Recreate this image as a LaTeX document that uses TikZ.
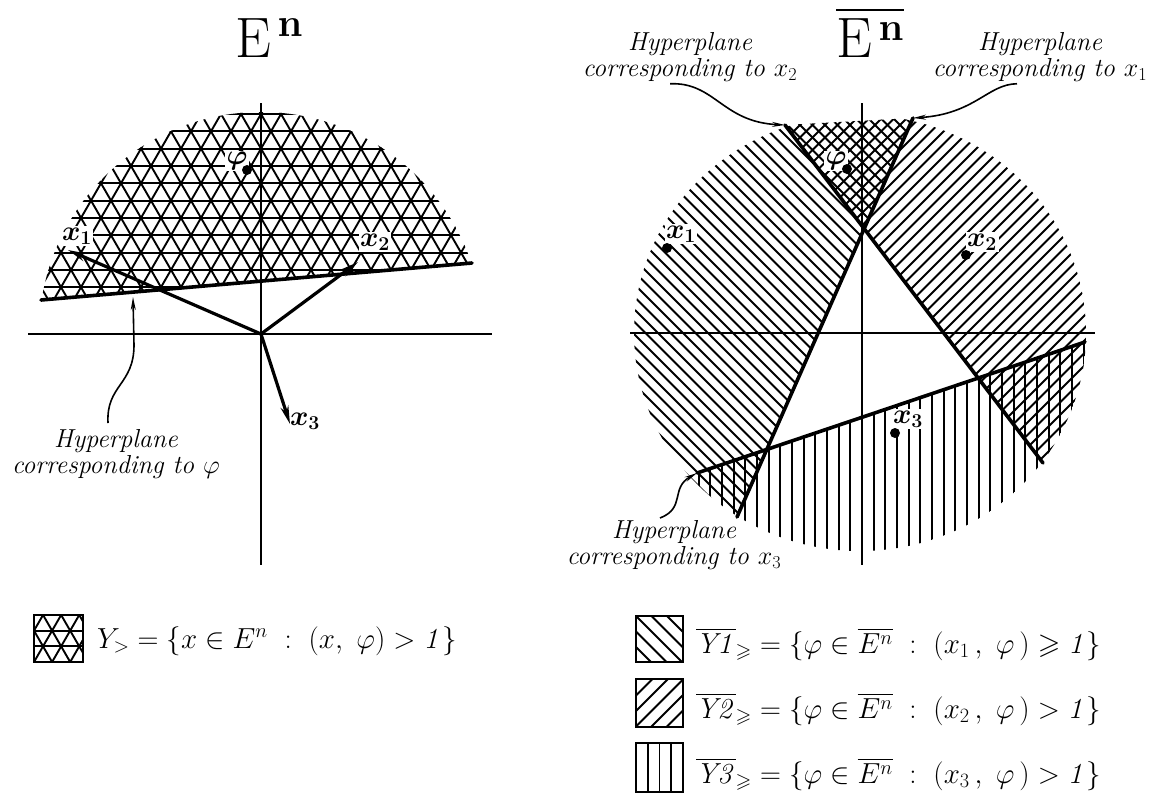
\documentclass[tikz,border=0pt]{standalone}
\usepackage{fix-cm}
\usepackage{amsmath}
\usepackage{amssymb}
\usetikzlibrary{arrows.meta}

\begin{document}
\begin{tikzpicture}[x=1pt, y=-1pt,
    axisline/.style={line width=2pt},
    hplane/.style={line width=3.6pt, line cap=round},
    hatch/.style={line width=1.9pt},
    vec/.style={line width=3.2pt, -{Stealth[length=18pt, width=8pt]}},
    pointer/.style={line width=1.6pt, -{Stealth[length=13pt, width=5pt]}},
    notetext/.style={font=\fontsize{26}{26}\selectfont\itshape, align=center, inner sep=0pt},
    lbl/.style={fill=white, inner sep=1.5pt, font=\fontsize{28}{28}\selectfont\boldmath},
    ptdot/.style={circle, fill=black, inner sep=0pt, minimum size=10pt},
    swatch/.style={line width=1.9pt},
    legtext/.style={anchor=base west, inner sep=0pt, font=\fontsize{29}{29}\selectfont},
    headtext/.style={anchor=base west, inner sep=0pt, font=\fontsize{57}{60}\selectfont}]
  \useasboundingbox (0,0) rectangle (1167,796);

  %% left picture: E^n
  \node[headtext] (headL) at (235,57) {$\mathrm{E}^{\,\mathbf{n}}$};

  % Y_> region
  \begin{scope}
    \clip (261,334) circle (222);
    \clip (20,301.8) -- (500,260.6) -- (500,80) -- (20,80) -- cycle;
    \foreach \j in {0,...,11}
      \draw[hatch] (30,114+17.32*\j) -- (495,114+17.32*\j);
    \foreach \i in {-20,...,20} {
      \draw[hatch] (111+20*\i,373.8) -- (411+20*\i,-145.8);
      \draw[hatch] (411+20*\i,373.8) -- (111+20*\i,-145.8);
    }
  \end{scope}

  \node[lbl] (phiLt) at (237,161) {$\varphi$};
  \node[lbl] (x1Lt) at (77,236) {$x_1$};
  \node[lbl] (x2Lt) at (375,242) {$x_2$};
  \node[lbl] (x3Lt) at (305,421) {$x_3$};

  \draw[axisline] (28,334) -- (492,334);
  \draw[axisline] (261,103) -- (261,565);

  \coordinate (oL) at (261,334);
  \coordinate (hpL1) at (41,300);
  \coordinate (hpL2) at (472,263);
  \draw[hplane] (hpL1) -- (hpL2);

  \node[ptdot] (phiL) at (247,170) {};
  \coordinate (x1tip) at (68,250);
  \coordinate (x2tip) at (358,262);
  \coordinate (x3tip) at (290,424);
  \draw[vec] (oL) -- (x1tip);
  \draw[vec] (oL) -- (x2tip);
  \draw[vec] (oL) -- (x3tip);

  \node[notetext, anchor=north] (phiNote) at (116,429) {Hyperplane\\corresponding to $\varphi$};
  \coordinate (phiHit) at (133,297);
  \draw[pointer] ([shift={(-8,-6)}]phiNote.north) .. controls (106,385) and (134,385) .. (134,345) -- (phiHit);

  %% right picture: dual space
  \node[headtext] (headR) at (836,57) {$\overline{\mathrm{E}^{\,\mathbf{n}}}$};

  \begin{scope}
    \clip (860,333) ellipse [x radius=226, y radius=218];
    \clip (600,135.1) -- (1150,105) -- (1150,600) -- (600,600) -- cycle;
    % Y1
    \begin{scope}
      \clip (930,80) -- (700,600) -- (600,600) -- (600,80) -- cycle;
      \foreach \k in {0,...,59}
        \draw[hatch] (180+12.5*\k,80) -- (700+12.5*\k,600);
    \end{scope}
    % Y2
    \begin{scope}
      \clip (750.7,80) -- (1147.6,600) -- (1160,600) -- (1160,80) -- cycle;
      \foreach \k in {0,...,58}
        \draw[hatch] (770+12.5*\k,80) -- (250+12.5*\k,600);
    \end{scope}
    % Y3
    \begin{scope}
      \clip (600,505.7) -- (1150,320.1) -- (1150,600) -- (600,600) -- cycle;
      \foreach \k in {-22,...,22}
        \draw[hatch] (862+11.67*\k,300) -- (862+11.67*\k,600);
    \end{scope}
  \end{scope}

  \node[lbl] (phiRt) at (836,161) {$\varphi$};
  \node[lbl] (x1Rt) at (681,234) {$x_1$};
  \node[lbl] (x2Rt) at (982,242) {$x_2$};
  \node[lbl] (x3Rt) at (908,419) {$x_3$};

  \draw[axisline] (630,333) -- (1095,333);
  \draw[axisline] (862,103) -- (862,565);

  \coordinate (hA1) at (785,125);
  \coordinate (hA2) at (1043,463);
  \coordinate (hB1) at (913,118);
  \coordinate (hB2) at (737,517);
  \coordinate (hC1) at (697,473);
  \coordinate (hC2) at (1085,342);
  \draw[hplane] (hA1) -- (hA2);
  \draw[hplane] (hB1) -- (hB2);
  \draw[hplane] (hC1) -- (hC2);

  \node[ptdot] (phiR) at (847,169) {};
  \node[ptdot] (x1R) at (667,248) {};
  \node[ptdot] (x2R) at (966,255) {};
  \node[ptdot] (x3R) at (895,433) {};

  \node[notetext, anchor=north] (x2Note) at (690,32) {Hyperplane\\corresponding to $x_2$};
  \node[notetext, anchor=north] (x1Note) at (1040,32) {Hyperplane\\corresponding to $x_1$};
  \node[notetext, anchor=north] (x3Note) at (674,520) {Hyperplane\\corresponding to $x_3$};
  \draw[pointer] ([shift={(-20,2)}]x2Note.south) .. controls (715,82) and (722,122) .. (hA1);
  \draw[pointer] ([shift={(-23,2)}]x1Note.south) .. controls (988,84) and (975,114) .. (hB1);
  \draw[pointer] ([shift={(-14,-2)}]x3Note.north) .. controls (686,508) and (670,488) .. (hC1);

  %% legend
  \begin{scope}
    \clip (34,615) rectangle (83,662);
    \foreach \j in {1,2}
      \draw[hatch] (34,615+15.67*\j) -- (83,615+15.67*\j);
    \foreach \i in {-3,...,6} {
      \draw[hatch] (4+18.09*\i,714) -- (64+18.09*\i,610);
      \draw[hatch] (64+18.09*\i,714) -- (4+18.09*\i,610);
    }
  \end{scope}
  \draw[swatch] (34,615) rectangle (83,662);
  \node[legtext] (legY) at (97,648) {$Y_{>}=\{x\in E^{n}\ :\ (x,\ \varphi)>\mathit{1}\}$};

  \begin{scope}
    \clip (636,616) rectangle (683,662);
    \foreach \c in {-11,4.5,20,35.5,51}
      \draw[hatch] (\c+600,600) -- (\c+700,700);
  \end{scope}
  \draw[swatch] (636,616) rectangle (683,662);
  \begin{scope}
    \clip (636,679) rectangle (683,727);
    \foreach \c in {1331.5,1347,1362.5,1378,1393.5}
      \draw[hatch] (\c-660,660) -- (\c-740,740);
  \end{scope}
  \draw[swatch] (636,679) rectangle (683,727);
  \foreach \k in {1,2,3}
    \draw[hatch] (636+11.75*\k,743) -- (636+11.75*\k,792);
  \draw[swatch] (636,743) rectangle (683,792);

  \node[legtext] (legY1) at (696,653) {$\overline{\mathit{Y1}}_{\geqslant}=\{\varphi\in\overline{E^{n}}\ :\ (x_1\,,\ \varphi\,)\geqslant\mathit{1}\}$};
  \node[legtext] (legY2) at (696,718) {$\overline{\mathit{Y2}}_{\geqslant}=\{\varphi\in\overline{E^{n}}\ :\ (x_2\,,\ \varphi\,)>\mathit{1}\}$};
  \node[legtext] (legY3) at (696,783) {$\overline{\mathit{Y3}}_{\geqslant}=\{\varphi\in\overline{E^{n}}\ :\ (x_3\,,\ \varphi\,)>\mathit{1}\}$};
\end{tikzpicture}
\end{document}
